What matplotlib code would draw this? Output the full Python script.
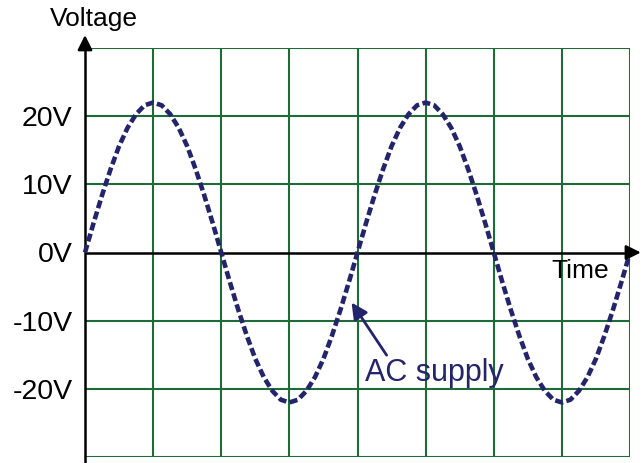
import numpy as np
import matplotlib
matplotlib.use('Agg')
import matplotlib.pyplot as plt

plt.rcParams['font.family'] = ['Liberation Sans', 'DejaVu Sans']

# time in grid divisions, voltage (V)
time_div = np.linspace(0, 8, 65)
voltage = [0, 4.3, 8.4, 12.2, 15.6, 18.3, 20.3, 21.6, 22, 21.6, 20.3, 18.3, 15.6, 12.2, 8.4, 4.3,
           0, -4.3, -8.4, -12.2, -15.6, -18.3, -20.3, -21.6, -22, -21.6, -20.3, -18.3, -15.6, -12.2, -8.4, -4.3,
           0, 4.3, 8.4, 12.2, 15.6, 18.3, 20.3, 21.6, 22, 21.6, 20.3, 18.3, 15.6, 12.2, 8.4, 4.3,
           0, -4.3, -8.4, -12.2, -15.6, -18.3, -20.3, -21.6, -22, -21.6, -20.3, -18.3, -15.6, -12.2, -8.4, -4.3,
           0]
ytick_vals = [-20, -10, 0, 10, 20]
ytick_labels = ['-20V', '-10V', '0V', '10V', '20V']

grid_col = '#1e6b3a'
curve_col = '#24246b'

fig = plt.figure(figsize=(6.44, 4.63), dpi=100)
ax = fig.add_axes([85/644, 1 - 457/463, 545/644, 409/463])
ax.set_xlim(0, 8)
ax.set_ylim(-30, 30)

# green grid
for gx in range(1, 9):
    ax.axvline(gx, color=grid_col, lw=1.5, zorder=1)
for gy in range(-30, 31, 10):
    if gy != 0:
        ax.axhline(gy, color=grid_col, lw=1.5, zorder=1)

# the AC curve
ax.plot(time_div, voltage, color=curve_col, lw=3.3, dashes=(1.75, 0.77), zorder=3, clip_on=False)

# axes with arrows
ax.plot([-0.0, 8.0], [0, 0], color='black', lw=1.8, zorder=2)
ax.plot([0, 0], [-30.8, 30], color='black', lw=1.8, zorder=2, clip_on=False)
ax.annotate('', xy=(8.2, 0), xytext=(7.95, 0), annotation_clip=False,
            arrowprops=dict(arrowstyle='-|>', color='black', lw=1.8, mutation_scale=22))
ax.annotate('', xy=(0, 32.3), xytext=(0, 29.5), annotation_clip=False,
            arrowprops=dict(arrowstyle='-|>', color='black', lw=1.8, mutation_scale=22))

ax.set_yticks(ytick_vals)
ax.set_yticklabels(ytick_labels, fontsize=20.5)
ax.tick_params(axis='y', length=0, pad=9)
ax.set_xticks([])
for s in ax.spines.values():
    s.set_visible(False)

ax.text(0.13, 33.2, 'Voltage', fontsize=19, ha='center', va='baseline', clip_on=False)
ax.text(6.85, -3.8, 'Time', fontsize=19, ha='left', va='baseline')

# label with arrow
ax.annotate('AC supply', xy=(3.89, -7.0), xytext=(4.11, -18.8), fontsize=22, color=curve_col,
            ha='left', va='baseline')
ax.annotate('', xy=(3.89, -7.0), xytext=(4.45, -15.4),
            arrowprops=dict(arrowstyle='-|>', color=curve_col, lw=2, mutation_scale=24))

fig.savefig('out.png', dpi=100)
